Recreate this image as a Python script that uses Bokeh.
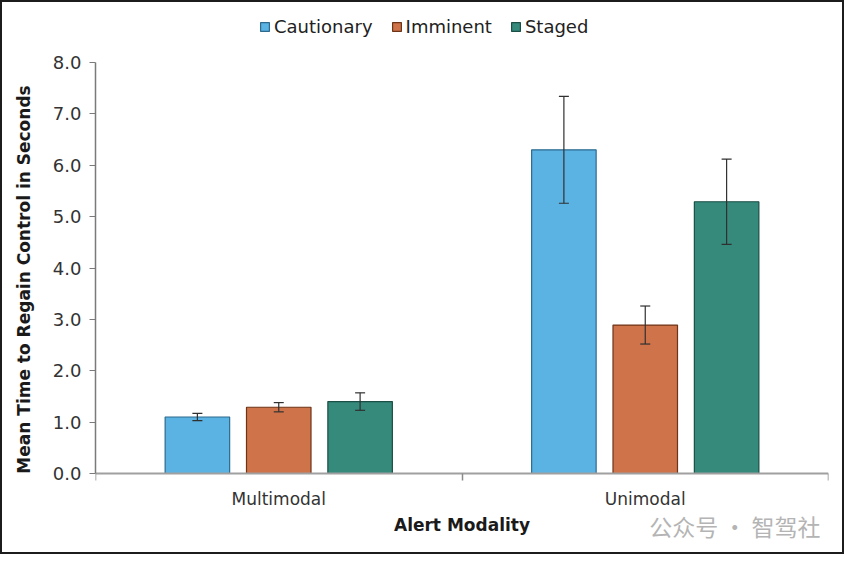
from bokeh.plotting import figure
from bokeh.models import (ColumnDataSource, Legend, LegendItem, FixedTicker, Whisker,
                          TeeHead, Range1d, CustomJSTickFormatter, Label)
from bokeh.embed import file_html
from bokeh.resources import INLINE

categories = ["Multimodal", "Unimodal"]
series = ["Cautionary", "Imminent", "Staged"]
means = {
    "Cautionary": [1.10, 6.30],
    "Imminent": [1.29, 2.89],
    "Staged": [1.40, 5.29],
}
errors = {
    "Cautionary": [0.07, 1.04],
    "Imminent": [0.09, 0.37],
    "Staged": [0.17, 0.83],
}
fills = {"Cautionary": "#5BB3E3", "Imminent": "#CF734A", "Staged": "#358A7C"}
edges = {"Cautionary": "#2D6A8E", "Imminent": "#6E3418", "Staged": "#1B4E44"}
y_ticks = [0, 1, 2, 3, 4, 5, 6, 7, 8]
y_lo, y_hi = 0, 8

FONT = "DejaVu Sans"
W, H = 844, 554
# layout in figure pixels
LEFT, RIGHT, TOP, BOTTOM = 93, 18, 4, 4
Y_TOP_PX, Y_ZERO_PX = 60, 471          # where 8.0 and 0.0 sit
ppu = (Y_ZERO_PX - Y_TOP_PX) / (y_hi - y_lo)
frame_bottom = H - BOTTOM
frame_w = W - LEFT - RIGHT
y_start = y_lo - (frame_bottom - Y_ZERO_PX) / ppu
y_end = y_hi + (Y_TOP_PX - TOP) / ppu

p = figure(width=W, height=H, output_backend="svg", toolbar_location=None,
           x_range=Range1d(0, len(categories)), y_range=Range1d(y_start, y_end),
           min_border_left=LEFT, min_border_right=RIGHT, min_border_top=TOP,
           min_border_bottom=BOTTOM)
p.styles = {"border": "2px solid #1c1c1c"}
p.grid.visible = False
p.outline_line_color = None
p.background_fill_color = "white"
p.border_fill_color = "white"

offsets = [-0.222, 0.0, 0.222]
bar_w = 0.176
items = []
for s, off in zip(series, offsets):
    xs = [i + 0.5 + off for i in range(len(categories))]
    m = means[s]
    e = errors[s]
    src = ColumnDataSource(dict(x=xs, top=m,
                                upper=[a + b for a, b in zip(m, e)],
                                lower=[a - b for a, b in zip(m, e)]))
    r = p.vbar(x="x", top="top", width=bar_w, bottom=0, source=src,
               fill_color=fills[s], line_color=edges[s], line_width=1.2)
    items.append(LegendItem(label=s, renderers=[r]))
    wk = Whisker(base="x", upper="upper", lower="lower", source=src,
                 line_color="#303030", line_width=1.2, level="overlay",
                 upper_head=TeeHead(size=10, line_color="#303030", line_width=1.2),
                 lower_head=TeeHead(size=10, line_color="#303030", line_width=1.2))
    p.add_layout(wk)

# y axis
ya = p.yaxis[0]
ya.bounds = (y_lo, y_hi)
ya.ticker = FixedTicker(ticks=y_ticks, minor_ticks=[])
ya.formatter = CustomJSTickFormatter(code="return tick.toFixed(1);")
ya.axis_label = "Mean Time to Regain Control in Seconds"
ya.axis_label_text_font = FONT
ya.axis_label_text_font_style = "bold"
ya.axis_label_text_font_size = "17px"
ya.axis_label_text_color = "#1a1a1a"
ya.axis_label_standoff = 16
ya.major_label_text_font = FONT
ya.major_label_text_font_size = "18px"
ya.major_label_text_color = "#333333"
ya.major_label_standoff = 8
ya.axis_line_color = "#7a7a7a"
ya.axis_line_width = 1.5
ya.major_tick_line_color = "#7a7a7a"
ya.major_tick_out = 6
ya.major_tick_in = 0

# x axis
xa = p.xaxis[0]
xa.fixed_location = 0
xa.ticker = FixedTicker(ticks=[i + 0.5 for i in range(len(categories))],
                        minor_ticks=list(range(len(categories) + 1)))
xa.major_label_overrides = {i + 0.5: c for i, c in enumerate(categories)}
xa.major_tick_line_color = None
xa.minor_tick_line_color = "#8a8a8a"
xa.minor_tick_line_width = 1.5
xa.minor_tick_out = 7
xa.minor_tick_in = 0
xa.axis_line_color = "#a0a0a0"
xa.axis_line_width = 2
xa.major_label_text_font = FONT
xa.major_label_text_font_size = "17px"
xa.major_label_text_color = "#333333"
xa.major_label_standoff = 8
xa.axis_label = "Alert Modality"
xa.axis_label_text_font = FONT
xa.axis_label_text_font_style = "bold"
xa.axis_label_text_font_size = "17px"
xa.axis_label_text_color = "#1a1a1a"
xa.axis_label_standoff = 3

legend = Legend(items=items, orientation="horizontal",
                location=(164, frame_bottom - 22 - 13),
                label_text_font=FONT, label_text_font_size="18px",
                label_text_color="#222222", glyph_width=11, glyph_height=11,
                label_standoff=4, spacing=18, padding=2, margin=0,
                border_line_color=None, background_fill_alpha=0)
p.add_layout(legend, "center")

# watermark
wm = Label(x=frame_w - 8, y=frame_bottom - 523, x_units="screen", y_units="screen",
           text="公众号 · 智驾社", text_font="Noto Sans CJK SC", text_font_size="23px",
           text_color="#b4b4b4", text_align="right", text_baseline="middle")
p.add_layout(wm)

open("out.html", "w").write(file_html(p, INLINE))
